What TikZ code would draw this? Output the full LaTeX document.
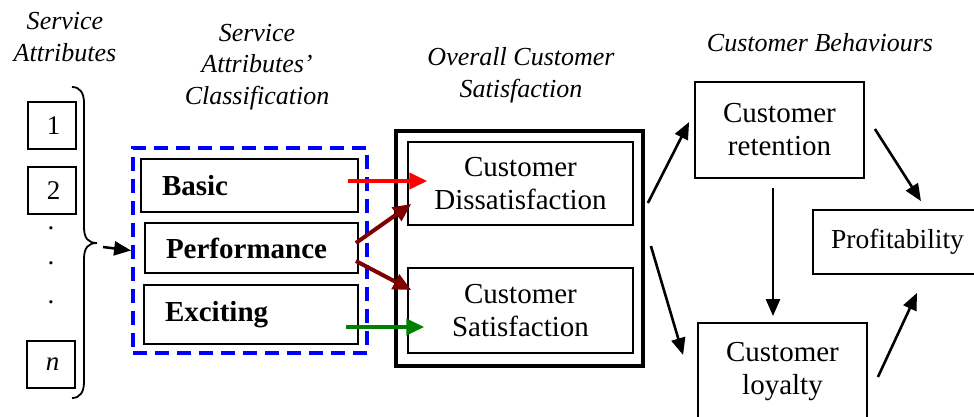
\documentclass[tikz,border=0pt]{standalone}
\usepackage{fontspec}
\setmainfont{LiberationSerif}[Extension=.ttf, UprightFont=*-Regular, BoldFont=*-Bold, ItalicFont=*-Italic, BoldItalicFont=*-BoldItalic]
\usetikzlibrary{arrows.meta,calc}
\definecolor{darkred}{RGB}{128,0,0}
\definecolor{dgreen}{RGB}{0,128,0}
\tikzset{
  box/.style={draw, line width=1.8pt, inner sep=0pt, align=center,
    font=\fontsize{29}{33}\selectfont},
  numbox/.style={draw, line width=1.8pt, inner sep=0pt, minimum width=48pt, minimum height=47pt,
    font=\fontsize{27}{31}\selectfont},
  classbox/.style={draw, line width=1.8pt, inner ysep=0pt, inner xsep=21pt, align=left,
    font=\fontsize{29}{33}\selectfont\bfseries},
  header/.style={align=center, inner sep=0pt, font=\fontsize{26}{31.5}\selectfont\itshape},
  dotnode/.style={inner sep=0pt, anchor=base, font=\fontsize{27}{31}\selectfont},
  colarrow/.style={line width=4pt, -{Triangle[length=18pt,width=16pt]}},
  blkarrow/.style={line width=2.6pt, -{Triangle[length=17pt,width=14pt]}},
}
\begin{document}
\begin{tikzpicture}[x=1pt,y=-1pt]
\useasboundingbox (0,0) rectangle (974,417);
% headers
\node[header] (h1) at (65,37) {Service\\Attributes};
\node[header] (h2) at (257,67) {Service\\Attributes’\\Classification};
\node[header] (h3) at (521,75) {Overall Customer\\Satisfaction};
\node[header] (h4) at (820,43) {Customer Behaviours};
% service attributes
\node[numbox] (a1) at (52,125.5) {\hspace*{3pt}1};
\node[numbox] (a2) at (52,190.5) {\hspace*{3pt}2};
\node[numbox] (an) at (51,364.5) {\hspace*{3pt}\textit{n}};
\node[dotnode] (d1) at (51,229) {.};
\node[dotnode] (d2) at (51,264) {.};
\node[dotnode] (d3) at (51,303) {.};
% brace
\draw[line width=1.8pt] (72,87) .. controls (80,87) and (84,93) .. (84,103) -- (84,227)
  .. controls (84,238) and (88,243) .. (97,243)
  .. controls (88,243) and (84,248) .. (84,259) -- (84,382)
  .. controls (84,392) and (80,398) .. (72,398);
\coordinate (brtip) at (103,247);
% classification
\node[draw=blue, line width=3.8pt, dash pattern=on 14pt off 8pt, minimum width=234pt, minimum height=205pt, inner sep=0pt] (cls) at (250,250.5) {};
\node[classbox, text width=175pt, minimum height=53pt] (basic) at (249.5,185.5) {Basic};
\node[classbox, text width=171pt, minimum height=50pt] (perf) at (251.5,248) {Performance};
\node[classbox, text width=172pt, minimum height=59pt] (exc) at (251,314.5) {Exciting};
\draw[blkarrow] (brtip) -- (cls.west);
% overall satisfaction
\node[draw, line width=3.8pt, minimum width=247pt, minimum height=235pt, inner sep=0pt] (ocs) at (519.5,248.5) {};
\node[box, line width=1.5pt, minimum width=225pt, minimum height=83pt] (dis) at (520.5,183.5) {Customer\\Dissatisfaction};
\node[box, line width=1.5pt, minimum width=225pt, minimum height=85pt] (sat) at (520.5,310.5) {Customer\\Satisfaction};
% behaviours
\node[box, minimum width=169pt, minimum height=96pt] (ret) at (779.5,130) {Customer\\retention};
\node[box, minimum width=169pt, minimum height=97pt] (loy) at (782.5,371.5) {Customer\\loyalty};
\node[box, minimum width=169pt, minimum height=64pt, font=\fontsize{27.5}{32}\selectfont] (prof) at (897.5,242) {Profitability};
% coloured arrows
\draw[colarrow, red] ($(basic.east)+(-11,-4.5)$) -- ($(dis.west)+(20,-2.5)$);
\draw[colarrow, darkred] ($(perf.east)+(-3,-5)$) -- ($(dis.west)+(4,20.5)$);
\draw[colarrow, darkred] ($(perf.east)+(-3,13)$) -- ($(sat.west)+(4,-20.5)$);
\draw[colarrow, dgreen] ($(exc.east)+(-13,12.5)$) -- ($(sat.west)+(17,16.5)$);
% black arrows
\draw[blkarrow] ($(ocs.east)+(3,-45.5)$) -- ($(ret.west)+(-5,-8)$);
\draw[blkarrow] ($(ocs.east)+(6,-2.5)$) -- ($(loy.west)+(-14,-16.5)$);
\draw[blkarrow] ($(ret.south)+(-6.5,9)$) -- ($(loy.north)+(-9.5,-6)$);
\draw[blkarrow] ($(ret.east)+(10,-1)$) -- ($(prof.north)+(23.5,-8)$);
\draw[blkarrow] ($(loy.east)+(10,5.5)$) -- ($(prof.south)+(19.5,18)$);
\end{tikzpicture}
\end{document}
